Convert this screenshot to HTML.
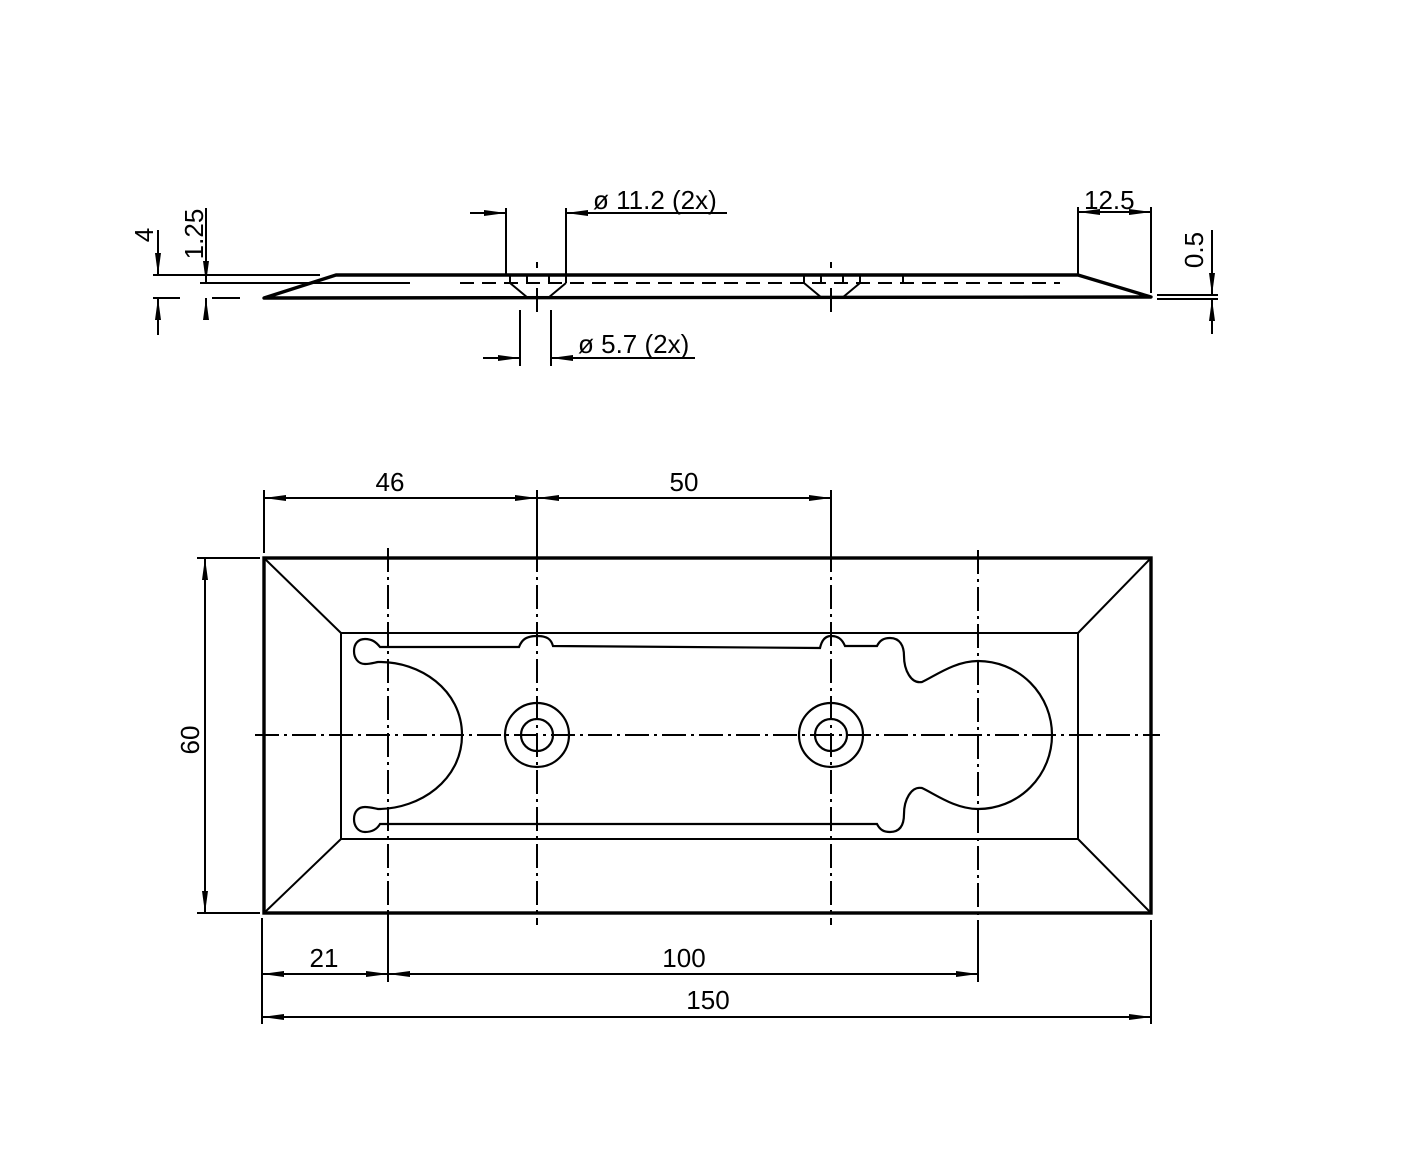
<!DOCTYPE html>
<html><head><style>html,body{margin:0;padding:0;background:#fff}svg{display:block}</style></head>
<body>
<svg width="1418" height="1170" viewBox="0 0 1418 1170" xmlns="http://www.w3.org/2000/svg" font-family="Liberation Sans, sans-serif" font-size="26" fill="none" stroke="#000">
<defs>
<marker id="a" viewBox="0 0 22 6" refX="22" refY="3" markerUnits="userSpaceOnUse" markerWidth="22" markerHeight="6" orient="auto-start-reverse"><path d="M0,0 L22,3 L0,6 Z" fill="#000" stroke="none"/></marker>
</defs>
<g stroke-width="2">
<path d="M336,275 L1078,275 L1151,297 L264,298 Z" stroke-width="3.4" stroke-linejoin="round"/>
<line x1="460" y1="283" x2="1060" y2="283" stroke-dasharray="14 8"/>
<path d="M510,283 V275 M566,283 V275 M527,283 V275 M549,283 V275 M804,283 V275 M860,283 V275 M821,283 V275 M843,283 V275 M903,283 V275"/>
<path d="M510,283 L528,298 M566,283 L548,298 M804,283 L822,298 M860,283 L842,298"/>
<path d="M537,262 V268 M537,288 V312 M831,262 V268 M831,288 V312"/>
<path d="M153,275 H320 M200,283 H410 M153,298 H180 M212,298 H240"/>
<line x1="158" y1="230" x2="158" y2="275" marker-end="url(#a)"/>
<line x1="158" y1="335" x2="158" y2="298" marker-end="url(#a)"/>
<line x1="206" y1="208" x2="206" y2="283" marker-end="url(#a)"/>
<line x1="206" y1="316" x2="206" y2="298" marker-end="url(#a)"/>
<path d="M506,208 V275 M566,208 V275"/>
<line x1="470" y1="213" x2="506" y2="213" marker-end="url(#a)"/>
<line x1="727" y1="213" x2="566" y2="213" marker-end="url(#a)"/>
<path d="M520,310 V366 M551,310 V366"/>
<line x1="483" y1="358" x2="520" y2="358" marker-end="url(#a)"/>
<line x1="695" y1="358" x2="551" y2="358" marker-end="url(#a)"/>
<path d="M1078,207 V275 M1151,207 V293"/>
<line x1="1078" y1="212" x2="1151" y2="212" marker-start="url(#a)" marker-end="url(#a)"/>
<path d="M1157,295 H1218 M1157,299 H1218"/>
<line x1="1212" y1="230" x2="1212" y2="295" marker-end="url(#a)"/>
<line x1="1212" y1="334" x2="1212" y2="299" marker-end="url(#a)"/>

<rect x="264" y="558" width="887" height="355" stroke-width="3.4"/>
<rect x="341" y="633" width="737" height="206"/>
<path d="M264,558 L341,633 M1151,558 L1078,633 M264,913 L341,839 M1151,913 L1078,839"/>
<g stroke-dasharray="24 5 3 5">
<line x1="255" y1="735" x2="1160" y2="735"/>
<line x1="388" y1="548" x2="388" y2="913"/>
<line x1="537" y1="548" x2="537" y2="925"/>
<line x1="831" y1="548" x2="831" y2="925"/>
<line x1="978" y1="550" x2="978" y2="925"/>
</g>
<circle cx="537" cy="735" r="32" stroke-width="2.2"/>
<circle cx="537" cy="735" r="16" stroke-width="2.2"/>
<circle cx="831" cy="735" r="32" stroke-width="2.2"/>
<circle cx="831" cy="735" r="16" stroke-width="2.2"/>
<path stroke-width="2.2" d="M380,647 H519 C522,639 527,636 537,636 C547,636 551,639 553,646 L820,648 C822,639 826,636 831,636 C838,636 842,639 845,646 H877 C880,640 884,638 890,638 C900,638 904,646 904,656 C904,670 911,684 922,682 C935,676 955,661 978,661 A74,74 0 0 1 978,809 C955,809 935,794 922,788 C911,786 904,800 904,814 C904,825 900,832 890,832 C884,832 880,830 877,824 H380 C376,831 370,832 365,832 C358,832 354,826 354,819 C354,812 358,807 365,807 C370,807 373,808 378,809 C420,809 462,780 462,735 C462,690 420,661 378,662 C373,663 370,664 365,664 C358,664 354,658 354,651 C354,644 358,639 365,639 C372,639 376,642 380,647 Z"/>
<path d="M264,490 V553 M537,490 V548 M831,490 V548"/>
<line x1="264" y1="498" x2="537" y2="498" marker-start="url(#a)" marker-end="url(#a)"/>
<line x1="537" y1="498" x2="831" y2="498" marker-start="url(#a)" marker-end="url(#a)"/>
<path d="M197,558 H260 M197,913 H260"/>
<line x1="205" y1="558" x2="205" y2="913" marker-start="url(#a)" marker-end="url(#a)"/>
<path d="M262,918 V1024 M388,913 V982 M978,925 V982 M1151,920 V1024"/>
<line x1="262" y1="974" x2="388" y2="974" marker-start="url(#a)" marker-end="url(#a)"/>
<line x1="388" y1="974" x2="978" y2="974" marker-start="url(#a)" marker-end="url(#a)"/>
<line x1="262" y1="1017" x2="1151" y2="1017" marker-start="url(#a)" marker-end="url(#a)"/>
</g>
<g fill="#000" stroke="none">
<text x="593" y="209">ø 11.2 (2x)</text>
<text x="578" y="353">ø 5.7 (2x)</text>
<text x="1084" y="209">12.5</text>
<text x="153" y="235" transform="rotate(-90 153 235)" text-anchor="middle">4</text>
<text x="203" y="234" transform="rotate(-90 203 234)" text-anchor="middle">1.25</text>
<text x="1203" y="250" transform="rotate(-90 1203 250)" text-anchor="middle">0.5</text>
<text x="199" y="740" transform="rotate(-90 199 740)" text-anchor="middle">60</text>
<text x="390" y="491" text-anchor="middle">46</text>
<text x="684" y="491" text-anchor="middle">50</text>
<text x="324" y="967" text-anchor="middle">21</text>
<text x="684" y="967" text-anchor="middle">100</text>
<text x="708" y="1009" text-anchor="middle">150</text>
</g>
</svg>
</body></html>
